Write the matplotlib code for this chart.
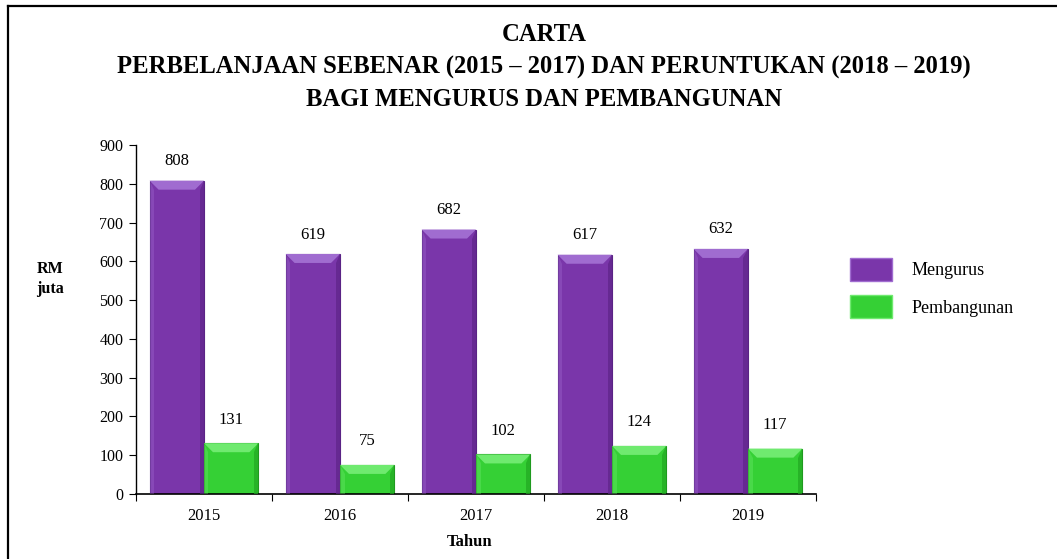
import matplotlib
matplotlib.use("Agg")
import matplotlib.pyplot as plt
import numpy as np
from matplotlib.patches import Polygon, Patch
from matplotlib.lines import Line2D

years = ["2015", "2016", "2017", "2018", "2019"]
mengurus = [808, 619, 682, 617, 632]
pembangunan = [131, 75, 102, 124, 117]
series_names = ["Mengurus", "Pembangunan"]
yticks = [0, 100, 200, 300, 400, 500, 600, 700, 800, 900]

title = ("CARTA\nPERBELANJAAN SEBENAR (2015 \u2013 2017) DAN PERUNTUKAN (2018 \u2013 2019)\n"
         "BAGI MENGURUS DAN PEMBANGUNAN")

plt.rcParams['font.family'] = ['Liberation Serif', 'DejaVu Serif']

W, H = 1057, 559
fig = plt.figure(figsize=(W / 100, H / 100), dpi=100)
ax = fig.add_axes([136 / W, 1 - 494 / H, (816 - 136) / W, (494 - 145) / H])

purple = "#7A36AA"
purple_edge = "#5A2385"
purple_light = "#A06CD0"
purple_dark = "#5E2488"
green = "#35D035"
green_edge = "#1F9A1F"
green_light = "#6FEA6F"
green_dark = "#22A822"

x = np.arange(len(years))
bw = 0.4
b1 = ax.bar(x - bw / 2, mengurus, bw, color=purple, edgecolor=purple_edge, linewidth=0.8, zorder=2)
b2 = ax.bar(x + bw / 2, pembangunan, bw, color=green, edgecolor=green_edge, linewidth=0.8, zorder=2)

ax.set_xlim(-0.5, len(years) - 0.5)
ax.set_ylim(0, 900)
ax.set_yticks(yticks)
ax.set_xticks(x)
ax.set_xticklabels(years, fontsize=12)
ax.set_xticks(np.arange(len(years) + 1) - 0.5, minor=True)
ax.tick_params(axis='x', which='major', length=0, pad=10)
ax.tick_params(axis='x', which='minor', length=5, width=0.8, direction='out')
ax.tick_params(axis='y', length=5, width=0.8, direction='out', labelsize=11.5, pad=4)
for s in ["top", "right"]:
    ax.spines[s].set_visible(False)
ax.spines["left"].set_linewidth(1.0)
ax.spines["bottom"].set_linewidth(1.2)

# bevel decoration computed from bar geometry
fig.canvas.draw()
inv = ax.transData.inverted()
def bevel(bars, light, dark, bev=9):
    for r in bars:
        x0, y0 = r.get_x(), r.get_y()
        x1, y1 = x0 + r.get_width(), y0 + r.get_height()
        (dx0, dy0), (dx1, dy1) = ax.transData.transform([(x0, y0), (x1, y1)])
        b = min(bev, (dy1 - dy0) / 2)
        top = [(dx0, dy1), (dx1, dy1), (dx1 - b, dy1 - b), (dx0 + b, dy1 - b)]
        right = [(dx1, dy1), (dx1, dy0), (dx1 - b * 0.5, dy0), (dx1 - b * 0.5, dy1 - b)]
        left = [(dx0, dy1), (dx0, dy0), (dx0 + b * 0.5, dy0), (dx0 + b * 0.5, dy1 - b)]
        for pts, c, a in [(top, light, 1.0), (right, dark, 0.7), (left, light, 0.35)]:
            ax.add_patch(Polygon(inv.transform(pts), closed=True, facecolor=c,
                                 edgecolor='none', alpha=a, zorder=3))
bevel(b1, purple_light, purple_dark)
bevel(b2, green_light, green_dark)

for r, v in zip(b1, mengurus):
    ax.annotate(str(v), (r.get_x() + r.get_width() / 2, v), xytext=(0, 14),
                textcoords='offset points', ha='center', va='center', fontsize=12)
for r, v in zip(b2, pembangunan):
    ax.annotate(str(v), (r.get_x() + r.get_width() / 2, v), xytext=(0, 17),
                textcoords='offset points', ha='center', va='center', fontsize=12)

fig.text(544 / W, 1 - 67 / H, title, ha='center', va='center', fontsize=17.7,
         fontweight='bold', linespacing=1.5)
fig.text(50 / W, 1 - 279 / H, "RM\njuta", ha='center', va='center', fontsize=11.5,
         fontweight='bold', linespacing=1.35)
fig.text(470 / W, 1 - 542 / H, "Tahun", ha='center', va='center', fontsize=12,
         fontweight='bold')

handles = [Patch(facecolor=purple, edgecolor=purple_light, linewidth=1),
           Patch(facecolor=green, edgecolor=green_light, linewidth=1)]
fig.legend(handles, series_names, loc='center left', bbox_to_anchor=(834 / W, 1 - 288 / H),
           frameon=False, fontsize=13, handlelength=2.3, handleheight=1.6,
           handletextpad=1.1, labelspacing=0.8)

# figure border (left and top visible)
fig.add_artist(Line2D([7.5 / W, 7.5 / W], [0, 1 - 5.5 / H], transform=fig.transFigure,
                      color='black', linewidth=1.6))
fig.add_artist(Line2D([7.5 / W, 1], [1 - 5.5 / H, 1 - 5.5 / H], transform=fig.transFigure,
                      color='black', linewidth=1.6))

fig.savefig("out.png", dpi=100)
